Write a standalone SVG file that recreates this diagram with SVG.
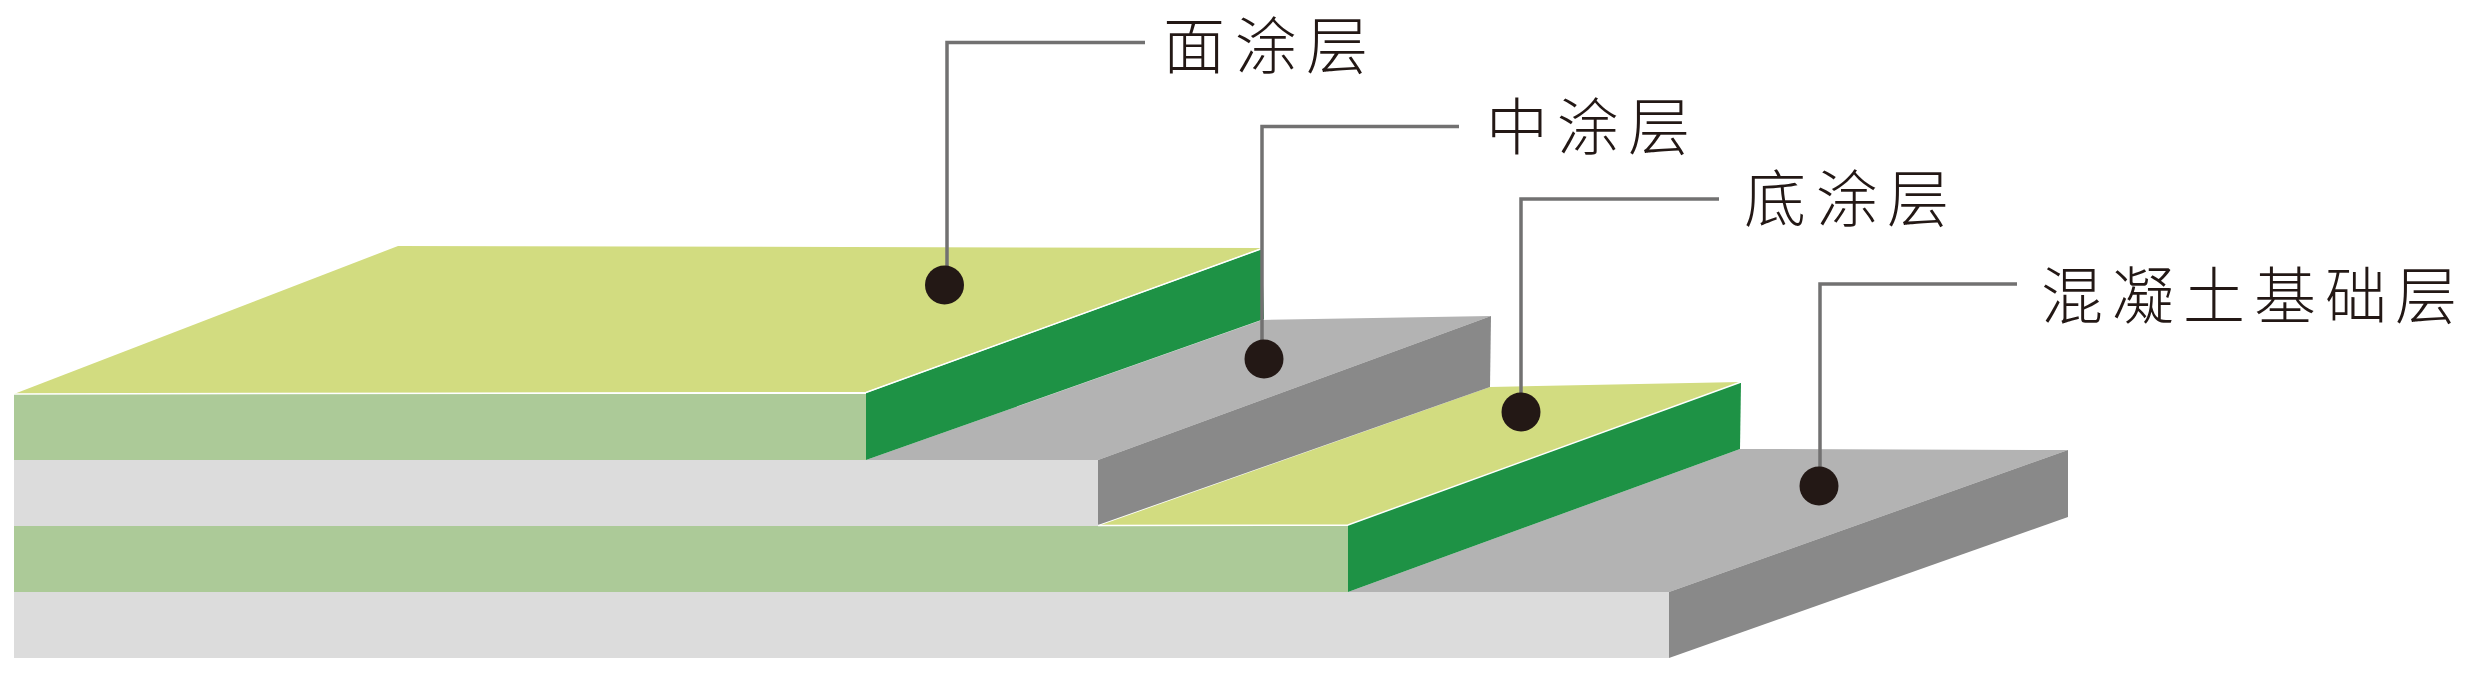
<svg xmlns="http://www.w3.org/2000/svg" width="2480" height="677" viewBox="0 0 2480 677">
<style>
.yl{fill:#d2dc80}.gr{fill:#1e9245}.pg{fill:#acca98}.lg{fill:#dcdcdc}.mg{fill:#b3b3b3}.dg{fill:#898989}
.seam{fill:none;stroke:#fff;stroke-width:1.5}
.conn{fill:none;stroke:#727171;stroke-width:3.5}
.dot{fill:#231815}
text{font-family:"Noto Sans CJK SC","Noto Sans CJK JP",sans-serif;font-size:62px;font-weight:300;fill:#231815}
</style>
<rect width="2480" height="677" fill="#fff"/>
<g id="layers">
<rect class="lg" x="14" y="592" width="1655" height="66"/>
<polygon class="mg" points="1348,592 1740,449 2068,450 1669,592"/>
<polygon class="dg" points="1669,592 2068,450 2068,517 1669,658"/>
<rect class="pg" x="14" y="526" width="1334" height="66"/>
<polygon class="yl" points="1098,526 1490,387 1741,382 1348,525"/>
<polygon class="gr" points="1348,525 1741,382 1740,449 1348,592"/>
<rect class="lg" x="14" y="460" width="1084" height="66"/>
<polygon class="mg" points="866,460 1262,320 1491,316 1098,460"/>
<polygon class="dg" points="1098,460 1491,316 1490,387 1098,525"/>
<rect class="pg" x="14" y="394" width="852" height="66"/>
<polygon class="yl" points="14,394 398,246 1262,248 866,392"/>
<polygon class="gr" points="866,393 1262,249 1264,319 866,460"/>
<polyline class="seam" points="14,394 866,392.5 1262,248.5"/>
<polyline class="seam" points="1098,525.5 1348,525 1741,382"/>
</g>
<g id="connectors">
<polyline class="conn" points="1145,42.5 947,42.5 947,270"/>
<polyline class="conn" points="1459,126.5 1262,126.5 1262,345"/>
<polyline class="conn" points="1719,199 1521,199 1521,398"/>
<polyline class="conn" points="2017,284 1820,284 1820,472"/>
</g>
<g id="node-top-coat">
<ellipse class="dot" cx="944.5" cy="285" rx="19.5" ry="19.5"/>
<text x="1163 1235 1306" y="69">面涂层</text>
</g>
<g id="node-mid-coat">
<ellipse class="dot" cx="1264" cy="359" rx="19.5" ry="19.5"/>
<text x="1486 1557 1628" y="150">中涂层</text>
</g>
<g id="node-base-coat">
<ellipse class="dot" cx="1521" cy="412" rx="19.5" ry="19.5"/>
<text x="1744 1816 1887" y="222">底涂层</text>
</g>
<g id="node-concrete">
<ellipse class="dot" cx="1819" cy="486" rx="19.5" ry="19.5"/>
<text x="2041 2112 2183 2254 2325 2395" y="319">混凝土基础层</text>
</g>
</svg>
